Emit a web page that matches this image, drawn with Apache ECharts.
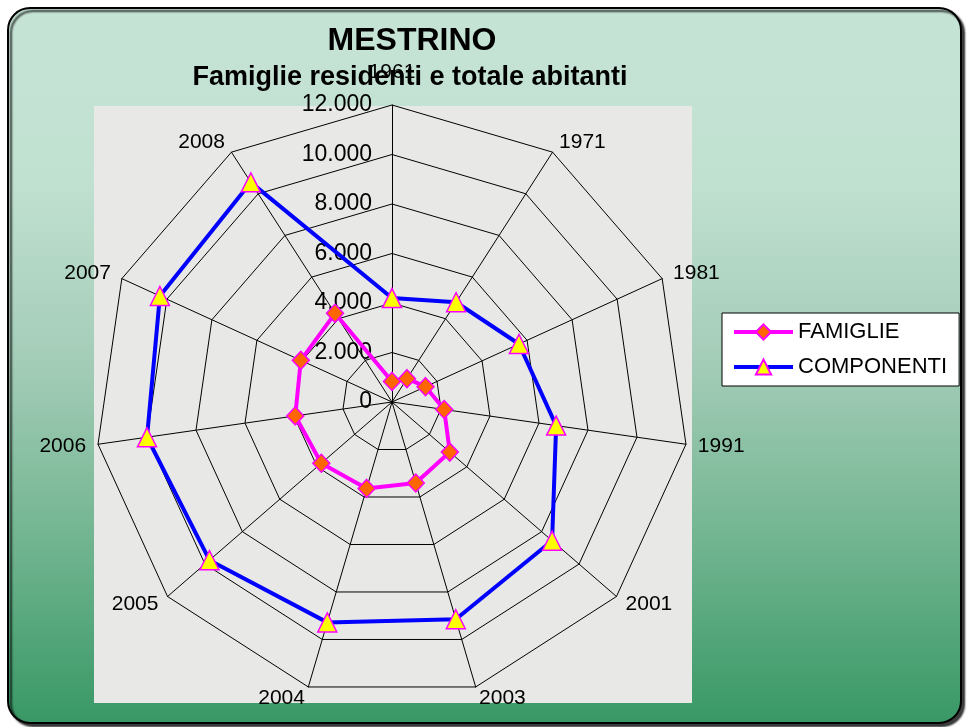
<!DOCTYPE html>
<html>
<head>
<meta charset="utf-8">
<script src="https://cdn.jsdelivr.net/npm/echarts@6/dist/echarts.min.js"></script>
<style>
  html, body { margin: 0; padding: 0; background: #ffffff; }
  #chart { width: 969px; height: 727px; }
</style>
</head>
<body>
<div id="chart"></div>
<script>
// Years on the spokes, clockwise from the top
const years = ['1961', '1971', '1981', '1991', '2001', '2003', '2004', '2005', '2006', '2007', '2008'];
// Resident households
const famiglie = [830, 1120, 1490, 2130, 3090, 3410, 3640, 3780, 3950, 4050, 4260];
// Total inhabitants
const componenti = [4200, 4790, 5640, 6700, 8560, 9150, 9280, 9760, 10000, 10310, 10550];
// Radial scale
const scaleMax = 12000;
const scaleSteps = 6;
const seriesNames = ['FAMIGLIE', 'COMPONENTI'];

const FONT = 'Liberation Sans, Arial, sans-serif';
const CX = 392, CY = 402, R = 297;

// Italian thousands separator: 12000 -> "12.000"
function fmt(v) {
  return String(Math.round(v)).replace(/\B(?=(\d{3})+(?!\d))/g, '.');
}

// ECharts radar runs counter-clockwise, so list the spokes in reverse after the first one
const radarOrder = [0].concat(years.slice(1).map((_, i) => years.length - 1 - i));

// Closed loop on the polar system: one point per year, then back to the first
function loop(values) {
  const pts = values.map((v, i) => [v, i]);
  pts.push({ value: [values[0], values.length], symbol: 'none' });
  return pts;
}

const chart = echarts.init(document.getElementById('chart'), null, { renderer: 'canvas' });

chart.setOption({
  animation: false,
  textStyle: { fontFamily: FONT },
  graphic: [
    {
      type: 'rect',
      z: 0,
      shape: { x: 8, y: 8, width: 953, height: 715, r: 22 },
      style: {
        fill: new echarts.graphic.LinearGradient(0, 0, 0, 1, [
          { offset: 0, color: '#c6e4d6' },
          { offset: 0.25, color: '#c0e0d0' },
          { offset: 0.5, color: '#a3ccb7' },
          { offset: 0.75, color: '#70b48f' },
          { offset: 1, color: '#389865' }
        ]),
        stroke: '#000000',
        lineWidth: 2,
        shadowColor: 'rgba(0,0,0,0.75)',
        shadowOffsetX: 3,
        shadowOffsetY: 3,
        shadowBlur: 2
      }
    },
    {
      type: 'rect',
      z: 0,
      shape: { x: 94, y: 106, width: 598, height: 597 },
      style: { fill: '#e8e8e6' }
    }
  ],
  title: [
    {
      text: 'MESTRINO',
      left: 407,
      top: 20,
      textAlign: 'center',
      textStyle: { fontFamily: FONT, fontSize: 32, fontWeight: 'bold', color: '#000' }
    },
    {
      text: 'Famiglie residenti e totale abitanti',
      left: 405,
      top: 59,
      textAlign: 'center',
      textStyle: { fontFamily: FONT, fontSize: 27, fontWeight: 'bold', color: '#000' }
    }
  ],
  legend: {
    orient: 'vertical',
    left: 722,
    top: 313,
    data: seriesNames,
    backgroundColor: '#ffffff',
    borderColor: '#000000',
    borderWidth: 1,
    borderRadius: 0,
    padding: [8, 12, 8, 10],
    itemWidth: 59,
    itemHeight: 19,
    itemGap: 13,
    lineStyle: { width: 4 },
    textStyle: { fontFamily: FONT, fontSize: 22, color: '#000' }
  },
  radar: {
    center: [CX, CY],
    radius: R,
    startAngle: 90,
    splitNumber: scaleSteps,
    shape: 'polygon',
    nameGap: 12,
    axisName: { color: '#000', fontFamily: FONT, fontSize: 21 },
    indicator: radarOrder.map((idx, k) => {
      const ind = { name: years[idx], min: 0, max: scaleMax };
      if (k === 0) {
        ind.nameGap = 22;
        ind.axisLabel = { show: true };
      }
      return ind;
    }),
    axisLine: { lineStyle: { color: '#000', width: 1 } },
    splitLine: { lineStyle: { color: '#000', width: 1 } },
    splitArea: { show: false },
    axisTick: { show: false },
    axisLabel: {
      show: false,
      color: '#000',
      fontFamily: FONT,
      fontSize: 23,
      margin: 20,
      formatter: fmt
    }
  },
  polar: { center: [CX, CY], radius: R },
  angleAxis: {
    type: 'value', min: 0, max: years.length, startAngle: 90, clockwise: true, show: false
  },
  radiusAxis: { type: 'value', min: 0, max: scaleMax, show: false },
  series: [
    {
      name: seriesNames[0],
      type: 'line',
      coordinateSystem: 'polar',
      data: loop(famiglie),
      symbol: 'diamond',
      symbolSize: [17, 18],
      showAllSymbol: true,
      lineStyle: { color: '#ff00ff', width: 4 },
      itemStyle: { color: '#ff6600', borderColor: '#ff00ff', borderWidth: 1.5 },
      z: 3
    },
    {
      name: seriesNames[1],
      type: 'line',
      coordinateSystem: 'polar',
      data: loop(componenti),
      symbol: 'triangle',
      symbolSize: [19, 19],
      showAllSymbol: true,
      lineStyle: { color: '#0000ff', width: 4 },
      itemStyle: { color: '#ffff00', borderColor: '#ff00ff', borderWidth: 1.5 },
      z: 3
    }
  ]
});
</script>
</body>
</html>
